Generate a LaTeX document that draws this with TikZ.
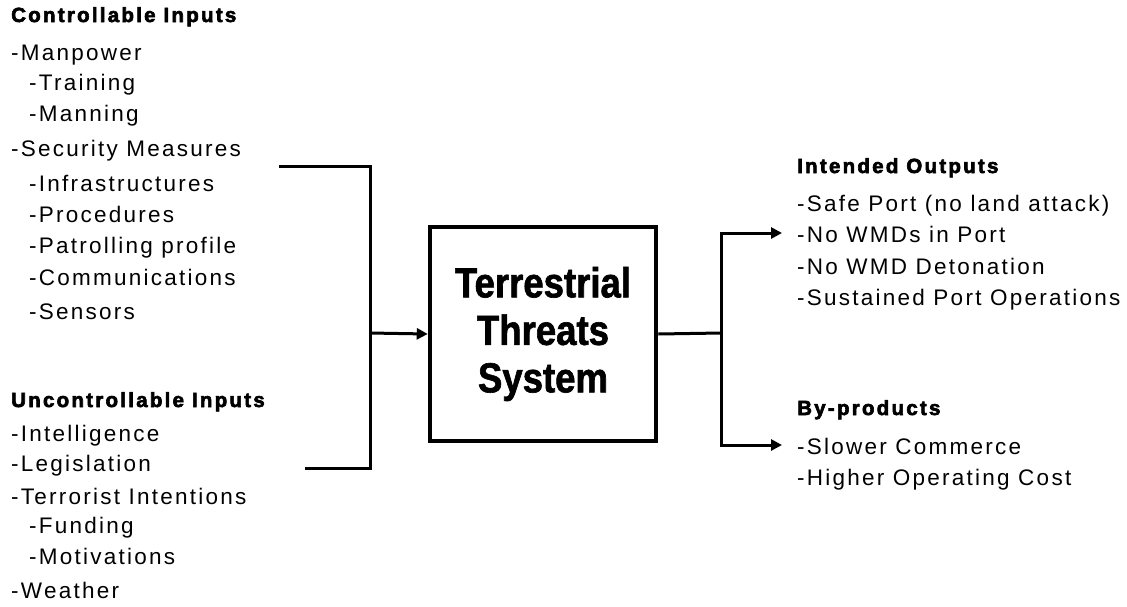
\documentclass[tikz,border=0pt]{standalone}
\usepackage{fontspec}
\setmainfont{Liberation Sans}[LetterSpace=10]
\newfontfamily\headfont{Liberation Sans}[LetterSpace=11,FakeBold=3]
\newfontfamily\boxfont{Liberation Sans}[FakeStretch=0.87,FakeBold=1.5]
\usetikzlibrary{arrows.meta}
\tikzset{
  item/.style={anchor=base west,inner sep=0pt,font=\fontsize{22.5}{26}\selectfont},
  head/.style={anchor=base west,inner sep=0pt,font=\headfont\bfseries\fontsize{20.5}{24}\selectfont},
  sysbox/.style={draw,line width=4.5pt,minimum width=226pt,minimum height=214pt,align=center,
    font=\boxfont\bfseries\fontsize{42}{47.5}\selectfont},
  wire/.style={line width=3pt},
  arr/.style={wire,-{Triangle[length=11pt,width=11pt]}}
}
\begin{document}
\begin{tikzpicture}[x=1pt,y=-1pt]
    \useasboundingbox (0,0) rectangle (1127,606);
      \node[head] (ctrl) at (11,22) {Controllable Inputs};
      \node[item] (man) at (11,60) {-Manpower}; \node[item] (tra) at (29,90) {-Training};
      \node[item] (mnn) at (29,121) {-Manning};
      \node[item] (sec) at (11,156) {-Security Measures};
      \node[item] (inf) at (29,191) {-Infrastructures}; \node[item] (pro) at (29,222) {-Procedures};
      \node[item] (pat) at (29,253) {-Patrolling profile}; \node[item] (com) at (29,285) {-Communications};
      \node[item] (sen) at (29,319) {-Sensors};
      \node[head] (unctrl) at (11,407) {Uncontrollable Inputs};
      \node[item] (intl) at (11,441) {-Intelligence}; \node[item] (leg) at (11,471) {-Legislation};
      \node[item] (ter) at (11,504) {-Terrorist Intentions};
      \node[item] (fun) at (29,533) {-Funding}; \node[item] (mot) at (29,564) {-Motivations};
      \node[item] (wea) at (11,598) {-Weather};
      \node[sysbox] (sys) at (543,334) {Terrestrial\\Threats\\System};
      \node[head] (outs) at (797,173) {Intended Outputs};
      \node[item] (safe) at (797,211) {-Safe Port (no land attack)};
      \node[item] (nowmd) at (797,242) {-No WMDs in Port};
      \node[item] (nodet) at (797,274) {-No WMD Detonation};
      \node[item] (sus) at (797,305) {-Sustained Port Operations};
      \node[head] (byp) at (797,415) {By-products};
      \node[item] (slow) at (797,454) {-Slower Commerce};
      \node[item] (cost) at (797,485) {-Higher Operating Cost};
      \coordinate (ci) at (279,166); \coordinate (ui) at (305,468); \coordinate (jl) at (370,333);
      \coordinate (jr) at (721,333); \coordinate (io) at (782,233); \coordinate (bp) at (782,445);
      \draw[wire] (ci) -| (jl) |- (ui);
      \draw[arr] (jl) -- (sys.west);
      \draw[wire] (sys.east) -- (jr);
      \draw[arr] (jr) |- (io); \draw[arr] (jr) |- (bp);
    \end{tikzpicture}
\end{document}
